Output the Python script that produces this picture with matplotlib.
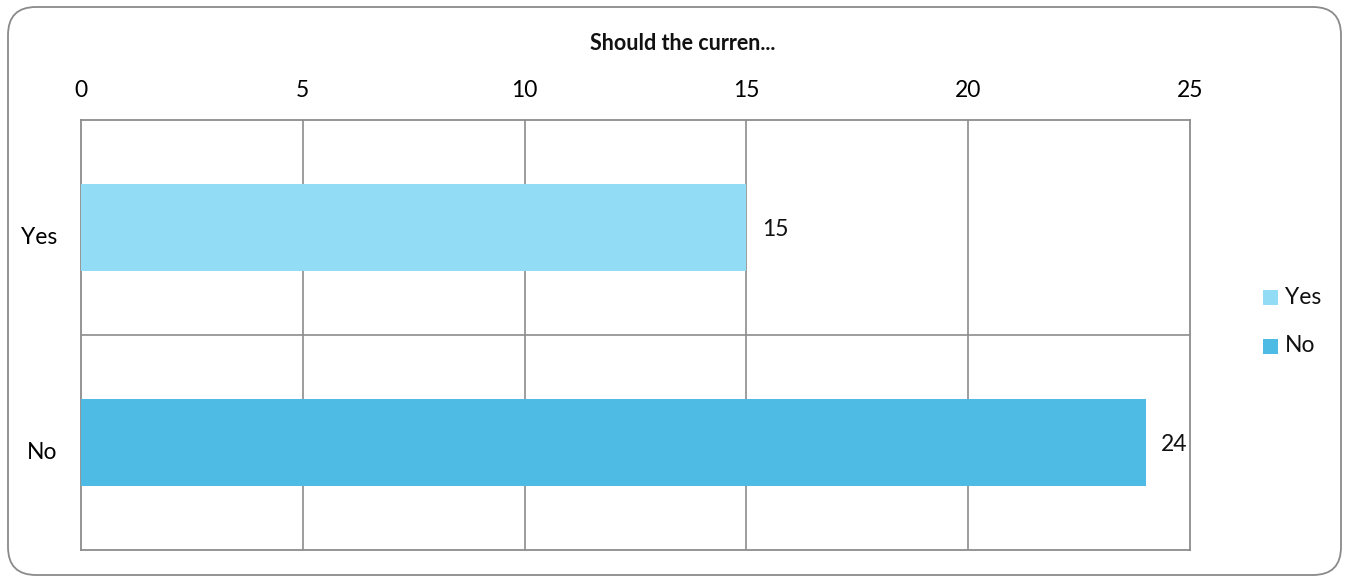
import matplotlib
matplotlib.use("Agg")
import matplotlib.pyplot as plt
from matplotlib.patches import FancyBboxPatch, Rectangle
from matplotlib.transforms import IdentityTransform, ScaledTranslation

plt.rcParams['font.family'] = ['Lato', 'DejaVu Sans']

title = "Should the curren..."
categories = ["Yes", "No"]
values = [15, 24]
colors = ["#92DCF6", "#4DBBE3"]
xticks = [0, 5, 10, 15, 20, 25]

W, H = 1349, 579
fig = plt.figure(figsize=(W / 100, H / 100), dpi=100)

# rounded outer frame, in pixel units
frame = FancyBboxPatch((8, 4), W - 16, H - 11,
                       boxstyle="round,pad=0,rounding_size=28",
                       transform=IdentityTransform(), fill=False,
                       edgecolor="#8a8a8a", linewidth=1.3)
fig.patches.append(frame)

ax = fig.add_axes([81 / W, (H - 550) / H, (1190 - 81) / W, 430 / H])
grid_c = "#8c8c8c"
pos = list(range(len(categories)))
ax.barh(pos, values, height=0.405, color=colors, zorder=3)
ax.set_xlim(0, 25)
ax.set_ylim(len(categories) - 0.5, -0.5)

ax.set_xticks(xticks)
ax.set_xticklabels([str(t) for t in xticks])
ax.xaxis.tick_top()
ax.tick_params(axis='x', length=0, pad=13.5, labelsize=16.5)
ax.set_yticks(pos)
ax.set_yticklabels(categories)
ax.tick_params(axis='y', length=0, pad=17, labelsize=16.5)
shift = ScaledTranslation(0, -6 / 72, fig.dpi_scale_trans)
for lbl in ax.get_yticklabels():
    lbl.set_transform(lbl.get_transform() + shift)

for x in xticks[1:-1]:
    ax.axvline(x, color=grid_c, linewidth=1.2, zorder=1)
for b in range(1, len(categories)):
    ax.axhline(b - 0.5, color=grid_c, linewidth=1.2, zorder=1)
for s in ax.spines.values():
    s.set_color(grid_c)
    s.set_linewidth(1.3)

for p, v in zip(pos, values):
    ax.annotate(str(v), xy=(v, p), xytext=(11, -1.5), textcoords="offset points",
                ha="left", va="center", fontsize=16.5, color="#111111")

fig.text(683 / W, 1 - 44 / H, title, ha="center", va="center",
         fontsize=15.5, fontweight="bold", color="#111111")

# legend
for i, (c, lab) in enumerate(zip(colors, categories)):
    yc = 297 + i * 49
    fig.patches.append(Rectangle((1263, H - yc - 7.5), 15, 15, transform=IdentityTransform(),
                                 facecolor=c, edgecolor="none"))
    fig.text(1285 / W, 1 - yc / H, lab, ha="left", va="center",
             fontsize=16.5, color="#111111")

fig.savefig("out.png", dpi=100)
